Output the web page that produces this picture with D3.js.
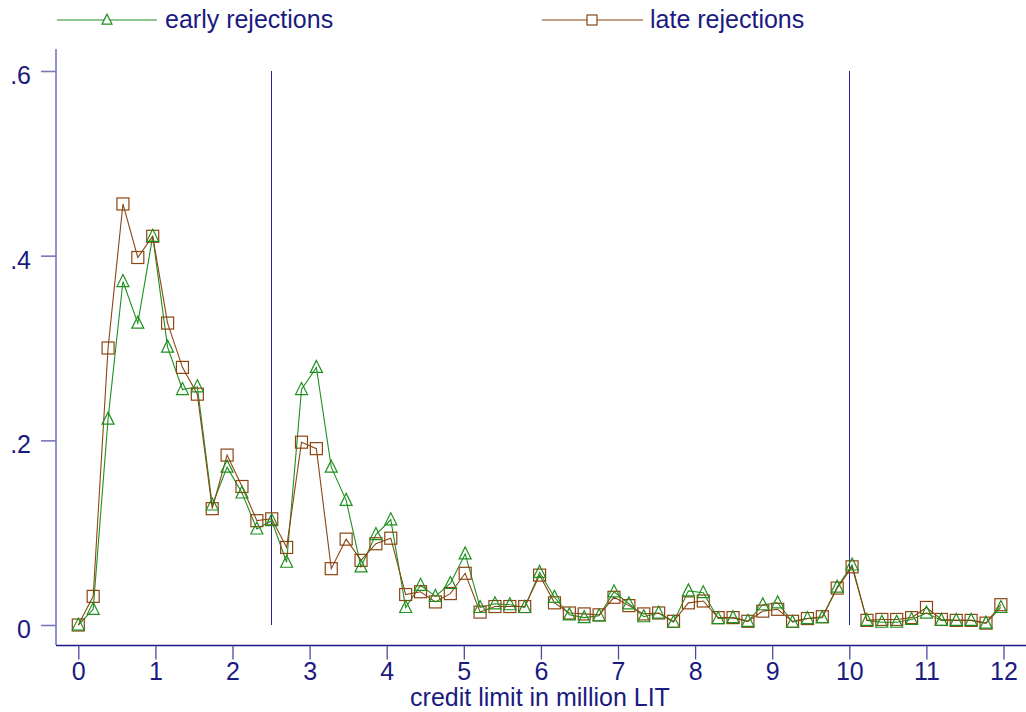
<!DOCTYPE html>
<html>
<head>
<meta charset="utf-8">
<script src="https://cdn.jsdelivr.net/npm/d3@7"></script>
<style>
html,body{margin:0;padding:0;background:#fff;}
svg{display:block;}
text{font-family:"Liberation Sans", Arial, sans-serif;fill:#1a1a80;}
</style>
</head>
<body>
<svg id="chart" width="1026" height="712"></svg>
<script>
// credit limit (million LIT) of each bin
const creditLimit = [0,0.193,0.386,0.579,0.772,0.965,1.158,1.351,1.544,1.737,1.93,2.123,2.316,2.509,2.702,2.895,3.088,3.281,3.474,3.667,3.86,4.053,4.246,4.439,4.632,4.825,5.018,5.211,5.404,5.597,5.79,5.983,6.176,6.369,6.562,6.755,6.948,7.141,7.334,7.527,7.72,7.913,8.106,8.299,8.492,8.685,8.878,9.071,9.264,9.457,9.65,9.843,10.036,10.229,10.422,10.615,10.808,11.001,11.194,11.387,11.58,11.773,11.966];
const earlyRejections = [0,0.017,0.223,0.372,0.327,0.421,0.301,0.255,0.258,0.130,0.171,0.143,0.104,0.113,0.068,0.255,0.279,0.171,0.135,0.063,0.098,0.114,0.019,0.043,0.031,0.045,0.077,0.019,0.023,0.022,0.019,0.057,0.030,0.011,0.008,0.010,0.036,0.023,0.009,0.013,0.003,0.037,0.035,0.007,0.008,0.004,0.022,0.024,0.003,0.007,0.008,0.041,0.065,0.005,0.003,0.003,0.006,0.013,0.005,0.005,0.005,0.002,0.019];
const lateRejections = [0,0.031,0.300,0.456,0.398,0.421,0.327,0.279,0.250,0.126,0.184,0.150,0.113,0.115,0.084,0.198,0.191,0.061,0.093,0.070,0.088,0.094,0.033,0.036,0.025,0.034,0.056,0.014,0.020,0.020,0.020,0.054,0.024,0.013,0.012,0.011,0.030,0.021,0.012,0.013,0.004,0.024,0.026,0.008,0.008,0.004,0.015,0.017,0.004,0.007,0.009,0.040,0.063,0.005,0.006,0.006,0.008,0.019,0.006,0.005,0.005,0.002,0.022];
const xTicks = [0,1,2,3,4,5,6,7,8,9,10,11,12];
const yTicks = [0,0.2,0.4,0.6];
const yTickLabels = ["0",".2",".4",".6"];
const refLines = [2.5,10];
const seriesNames = ["early rejections","late rejections"];

const navy = "#1a1a8a";
const refColor = "#24249c";
const lavender = "#7878bc";
const green = "#1f8f1f";
const brown = "#8b4513";

const svg = d3.select("#chart");
const x = d3.scaleLinear().domain([0,12]).range([78.3,1003.5]);
const y = d3.scaleLinear().domain([0,0.6]).range([625,71]);

// reference lines
svg.selectAll("line.ref").data(refLines).enter().append("line")
  .attr("x1",d=>Math.round(x(d))+0.5).attr("x2",d=>Math.round(x(d))+0.5)
  .attr("y1",y(0.6)).attr("y2",y(0))
  .attr("stroke",refColor).attr("stroke-width",1);

// axes
svg.append("line").attr("x1",56).attr("x2",56).attr("y1",49).attr("y2",645)
  .attr("stroke",lavender).attr("stroke-width",1.6);
svg.append("line").attr("x1",56).attr("x2",1026).attr("y1",645.5).attr("y2",645.5)
  .attr("stroke",navy).attr("stroke-width",1.3);

const yAxis = d3.axisLeft(y).tickValues(yTicks).tickSize(15)
  .tickFormat((d,i)=>yTickLabels[i]).tickPadding(10);
const gy = svg.append("g").attr("transform","translate(56,0)").call(yAxis);
gy.select(".domain").remove();
gy.selectAll(".tick line").attr("stroke",lavender).attr("stroke-width",1.6);
gy.selectAll(".tick text").attr("font-size",25).attr("fill","#1a1a80")
  .attr("font-family","Liberation Sans, Arial, sans-serif").attr("dy","0.5em");

const xAxis = d3.axisBottom(x).tickValues(xTicks).tickSize(14).tickPadding(2).tickFormat(d3.format("d"));
const gx = svg.append("g").attr("transform","translate(0,645.5)").call(xAxis);
gx.select(".domain").remove();
gx.selectAll(".tick line").attr("stroke","#4a4aa2").attr("stroke-width",1.3);
gx.selectAll(".tick text").attr("font-size",25).attr("fill","#1a1a80")
  .attr("font-family","Liberation Sans, Arial, sans-serif").attr("dy","0.72em");

svg.append("text").attr("x",540).attr("y",706).attr("text-anchor","middle")
  .attr("font-size",25).text("credit limit in million LIT");

// lines
const line = d3.line().x((d,i)=>x(creditLimit[i])).y(d=>y(d));
const tri = (cx,cy,s)=>`M${cx},${cy-s*0.58}L${cx+s/2},${cy+s*0.42}L${cx-s/2},${cy+s*0.42}Z`;

svg.append("path").datum(earlyRejections).attr("d",line)
  .attr("fill","none").attr("stroke",green).attr("stroke-width",1.1);
svg.append("path").datum(lateRejections).attr("d",line)
  .attr("fill","none").attr("stroke",brown).attr("stroke-width",1.1);

svg.selectAll("rect.late").data(lateRejections).enter().append("rect")
  .attr("x",(d,i)=>x(creditLimit[i])-6).attr("y",d=>y(d)-6)
  .attr("width",12).attr("height",12)
  .attr("fill","none").attr("stroke",brown).attr("stroke-width",1.2);
svg.selectAll("path.early").data(earlyRejections).enter().append("path")
  .attr("d",(d,i)=>tri(x(creditLimit[i]),y(d),12))
  .attr("fill","none").attr("stroke",green).attr("stroke-width",1.2);

// legend
const lg = svg.append("g");
lg.append("line").attr("x1",57).attr("x2",157).attr("y1",20).attr("y2",20).attr("stroke",green).attr("stroke-width",1.2);
lg.append("path").attr("d",tri(107,20,10)).attr("fill","#fff").attr("stroke",green).attr("stroke-width",1.2);
lg.append("text").attr("x",165).attr("y",28).attr("font-size",25).text(seriesNames[0]);
lg.append("line").attr("x1",542).attr("x2",643).attr("y1",20).attr("y2",20).attr("stroke",brown).attr("stroke-width",1.2);
lg.append("rect").attr("x",587).attr("y",15).attr("width",10).attr("height",10).attr("fill","#fff").attr("stroke",brown).attr("stroke-width",1.2);
lg.append("text").attr("x",650).attr("y",28).attr("font-size",25).text(seriesNames[1]);
</script>
</body>
</html>
